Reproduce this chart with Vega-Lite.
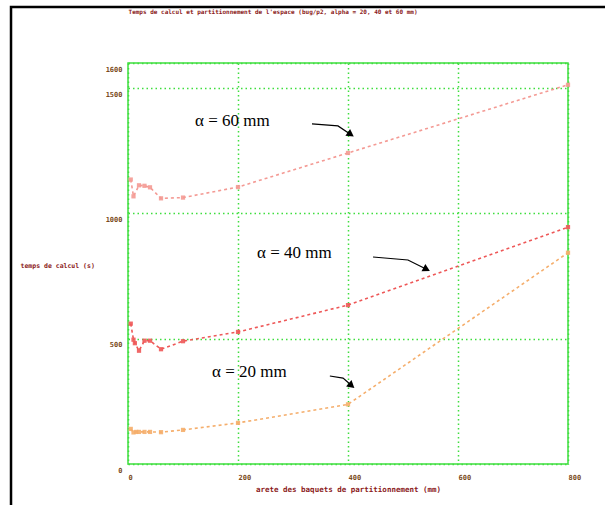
{
  "$schema": "https://vega.github.io/schema/vega-lite/v6.json",
  "width": 440,
  "height": 401,
  "autosize": "none",
  "padding": {"left": 128, "top": 63, "right": 37, "bottom": 41},
  "background": "white",
  "config": {
    "view": {"stroke": "#3ede3e", "strokeWidth": 1.5},
    "font": "DejaVu Sans Mono"
  },
  "title": {
    "text": "Temps de calcul et partitionnement de l'espace (bug/p2, alpha = 20, 40 et 60 mm)",
    "font": "DejaVu Sans Mono",
    "fontSize": 6,
    "fontWeight": "bold",
    "color": "#8b1a1a",
    "anchor": "middle",
    "frame": "group",
    "dx": -75,
    "offset": -9
  },
  "datasets": {
    "series": [
      {"serie": "60", "arete": 5, "temps": 1135},
      {"serie": "60", "arete": 10, "temps": 1068},
      {"serie": "60", "arete": 20, "temps": 1112},
      {"serie": "60", "arete": 30, "temps": 1110},
      {"serie": "60", "arete": 40, "temps": 1104},
      {"serie": "60", "arete": 60, "temps": 1060},
      {"serie": "60", "arete": 100, "temps": 1063},
      {"serie": "60", "arete": 200, "temps": 1105},
      {"serie": "60", "arete": 400, "temps": 1241},
      {"serie": "60", "arete": 800, "temps": 1513},
      {"serie": "40", "arete": 5, "temps": 560},
      {"serie": "40", "arete": 10, "temps": 496},
      {"serie": "40", "arete": 12.5, "temps": 482},
      {"serie": "40", "arete": 20, "temps": 452},
      {"serie": "40", "arete": 30, "temps": 492},
      {"serie": "40", "arete": 40, "temps": 492},
      {"serie": "40", "arete": 60, "temps": 458},
      {"serie": "40", "arete": 100, "temps": 490},
      {"serie": "40", "arete": 200, "temps": 527},
      {"serie": "40", "arete": 400, "temps": 634},
      {"serie": "40", "arete": 800, "temps": 945},
      {"serie": "20", "arete": 5, "temps": 140},
      {"serie": "20", "arete": 10, "temps": 126},
      {"serie": "20", "arete": 15, "temps": 128},
      {"serie": "20", "arete": 20, "temps": 128},
      {"serie": "20", "arete": 30, "temps": 128},
      {"serie": "20", "arete": 40, "temps": 128},
      {"serie": "20", "arete": 60, "temps": 127},
      {"serie": "20", "arete": 100, "temps": 136},
      {"serie": "20", "arete": 200, "temps": 164},
      {"serie": "20", "arete": 400, "temps": 238},
      {"serie": "20", "arete": 800, "temps": 843}
    ],
    "arrows": [
      {"arrow": "a60", "ord": 1, "arete": 334.5, "temps": 1357},
      {"arrow": "a60", "ord": 2, "arete": 381.8, "temps": 1349},
      {"arrow": "a60", "ord": 3, "arete": 403.6, "temps": 1317},
      {"arrow": "a40", "ord": 1, "arete": 445.5, "temps": 826},
      {"arrow": "a40", "ord": 2, "arete": 509, "temps": 814},
      {"arrow": "a40", "ord": 3, "arete": 541.8, "temps": 778},
      {"arrow": "a20", "ord": 1, "arete": 367, "temps": 351},
      {"arrow": "a20", "ord": 2, "arete": 391, "temps": 343},
      {"arrow": "a20", "ord": 3, "arete": 405.5, "temps": 315}
    ],
    "heads": [
      {"arrow": "a60", "arete": 405, "temps": 1315, "angle": 34},
      {"arrow": "a40", "arete": 543, "temps": 777, "angle": 27},
      {"arrow": "a20", "arete": 406.5, "temps": 313, "angle": 40}
    ],
    "labels": [
      {"label": "α = 60 mm", "arete": 121.8, "temps": 1368},
      {"label": "α = 40 mm", "arete": 234.5, "temps": 842},
      {"label": "α = 20 mm", "arete": 152.7, "temps": 367}
    ],
    "frame": [
      {"x1": -212.7, "x2": 900, "y1": -200, "y2": 1823}
    ]
  },
  "layer": [
    {
      "data": {"name": "frame"},
      "mark": {"type": "rect", "fill": null, "fillOpacity": 0, "stroke": "black", "strokeWidth": 2.5, "clip": false},
      "encoding": {
        "x": {"field": "x1", "type": "quantitative", "scale": {"domain": [0, 800], "nice": false}},
        "x2": {"field": "x2"},
        "y": {"field": "y1", "type": "quantitative", "scale": {"domain": [0, 1600], "nice": false}},
        "y2": {"field": "y2"}
      }
    },
    {
      "data": {"name": "series"},
      "mark": {"type": "line", "strokeWidth": 1.6, "strokeDash": [3, 3], "point": {"shape": "square", "size": 18, "filled": true, "opacity": 0.9}},
      "encoding": {
        "x": {
          "field": "arete", "type": "quantitative",
          "scale": {"domain": [0, 800], "nice": false},
          "axis": {
            "values": [0, 200, 400, 600, 800],
            "format": "d",
            "title": "arete des baquets de partitionnement (mm)",
            "grid": true, "gridColor": "#3ede3e", "gridDash": [1.5, 3], "gridWidth": 1.5,
            "ticks": false, "domain": false,
            "labelFont": "DejaVu Sans Mono", "labelFontSize": 7, "labelFontWeight": "bold", "labelColor": "#7a4a20",
            "labelAlign": "left", "labelBaseline": "top", "labelPadding": 9, "labelFlush": false,
            "titleFont": "DejaVu Sans Mono", "titleFontSize": 7.5, "titleFontWeight": "bold", "titleColor": "#8b1a1a",
            "titleY": 25, "titleBaseline": "middle"
          }
        },
        "y": {
          "field": "temps", "type": "quantitative",
          "scale": {"domain": [0, 1600], "nice": false},
          "axis": {
            "values": [0, 500, 1000, 1500, 1600],
            "format": "d",
            "title": "temps de calcul (s)",
            "grid": true, "gridColor": "#3ede3e", "gridDash": [1.5, 3], "gridWidth": 1.5,
            "ticks": false, "domain": false,
            "labelFont": "DejaVu Sans Mono", "labelFontSize": 7, "labelFontWeight": "bold", "labelColor": "#7a4a20",
            "labelPadding": 6, "labelOffset": 6, "labelFlush": false,
            "titleFont": "DejaVu Sans Mono", "titleFontSize": 6.5, "titleFontWeight": "bold", "titleColor": "#8b1a1a",
            "titleAngle": 0, "titleAlign": "left", "titleBaseline": "middle", "titleX": -108, "titleY": 202
          }
        },
        "color": {
          "field": "serie", "type": "nominal",
          "scale": {"domain": ["60", "40", "20"], "range": ["#f49a94", "#ee5858", "#f5ae6c"]},
          "legend": null
        }
      }
    },
    {
      "data": {"name": "arrows"},
      "mark": {"type": "line", "color": "black", "strokeWidth": 1.2},
      "encoding": {
        "x": {"field": "arete", "type": "quantitative"},
        "y": {"field": "temps", "type": "quantitative"},
        "detail": {"field": "arrow"},
        "order": {"field": "ord"}
      }
    },
    {
      "data": {"name": "heads"},
      "mark": {"type": "point", "shape": "triangle-right", "filled": true, "color": "black", "size": 70, "opacity": 1},
      "encoding": {
        "x": {"field": "arete", "type": "quantitative"},
        "y": {"field": "temps", "type": "quantitative"},
        "angle": {"field": "angle", "type": "quantitative", "scale": null}
      }
    },
    {
      "data": {"name": "labels"},
      "mark": {"type": "text", "font": "Liberation Serif", "fontSize": 17, "align": "left", "baseline": "middle", "color": "black"},
      "encoding": {
        "x": {"field": "arete", "type": "quantitative"},
        "y": {"field": "temps", "type": "quantitative"},
        "text": {"field": "label"}
      }
    }
  ]
}
